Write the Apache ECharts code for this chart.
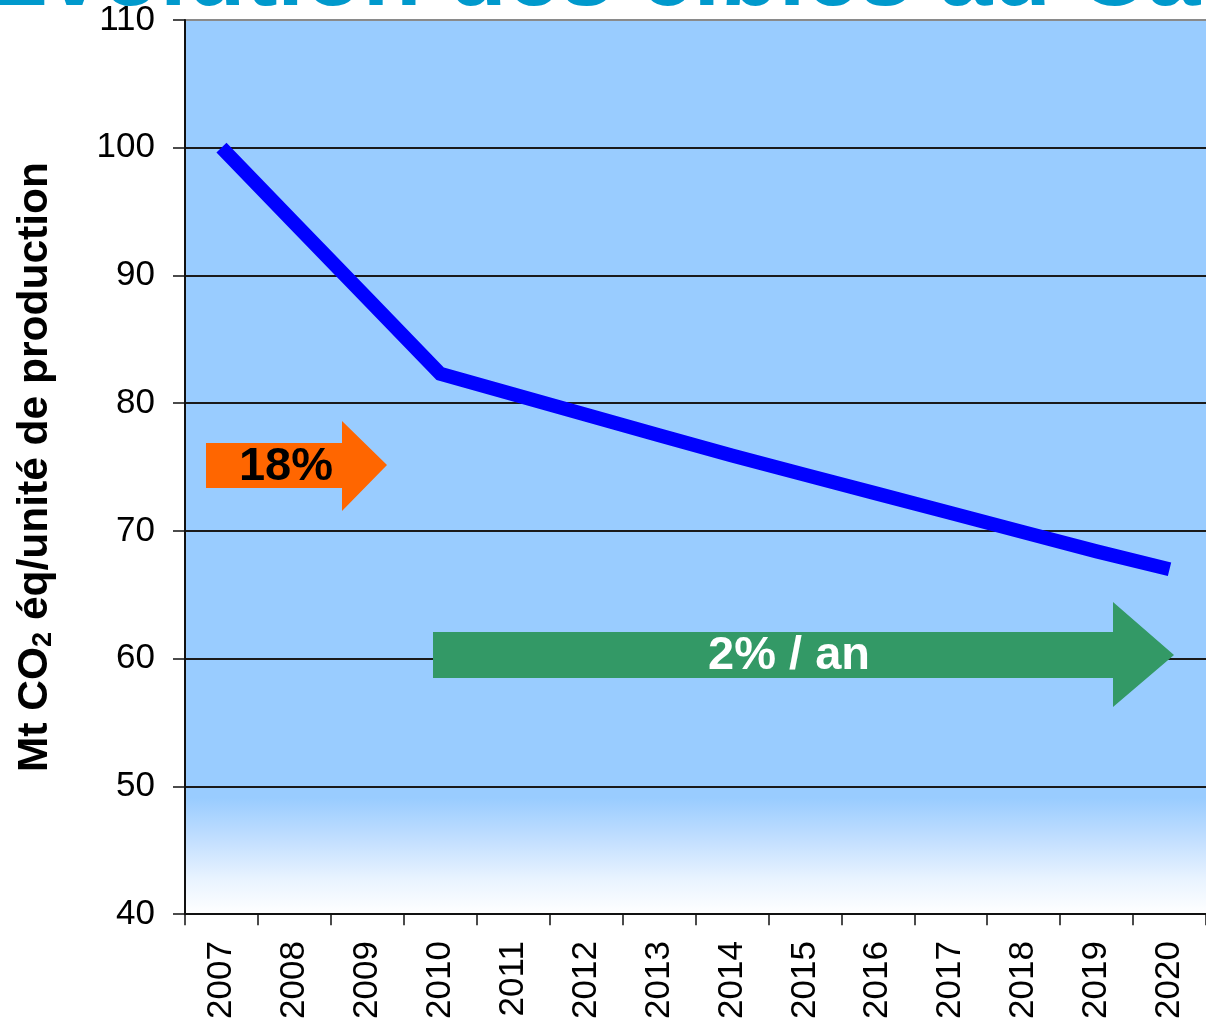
<!DOCTYPE html>
<html>
<head>
<meta charset="utf-8">
<script src="https://cdn.jsdelivr.net/npm/echarts@6/dist/echarts.min.js"></script>
<style>
html,body{margin:0;padding:0;background:#fff;overflow:hidden;}
#chart{width:1206px;height:1022px;}
</style>
</head>
<body>
<div id="chart"></div>
<script>
// Data
const years = ['2007','2008','2009','2010','2011','2012','2013','2014','2015','2016','2017','2018','2019','2020'];
const emissions = [100, 94.1, 88.2, 82.3, 80.7, 79.1, 77.5, 75.9, 74.4, 72.9, 71.4, 69.9, 68.4, 67.0];
const yTicks = {min: 40, max: 110, step: 10};
const titleText = 'Evolution des cibles au Canada';
const axisTitle = '{a|Mt CO}{s|2}{a| éq/unité de production}';
const arrow1Label = '18%';
const arrow2Label = '2% / an';

const FONT = '"Liberation Sans", Arial, Helvetica, sans-serif';
const chart = echarts.init(document.getElementById('chart'), null, {renderer: 'canvas'});

const splitColors = ['#1a1a1a','#1a1a1a','#1a1a1a','#1a1a1a','#1a1a1a','#1a1a1a','#1a1a1a','#8a8a8a'];

chart.setOption({
  animation: false,
  backgroundColor: '#ffffff',
  grid: {
    left: 185, top: 20, right: -9, bottom: 106,
    show: true, borderWidth: 0,
    backgroundColor: {
      type: 'linear', x: 0, y: 0, x2: 0, y2: 1,
      colorStops: [
        {offset: 0, color: '#99CCFF'},
        {offset: 0.87, color: '#99CCFF'},
        {offset: 0.92, color: '#C5E0FF'},
        {offset: 0.96, color: '#E8F3FF'},
        {offset: 1, color: '#FFFFFF'}
      ]
    }
  },
  xAxis: {
    type: 'category',
    data: years,
    boundaryGap: true,
    axisLine: {show: true, lineStyle: {color: '#111', width: 2}},
    axisTick: {show: true, length: 11, lineStyle: {color: '#111', width: 1.5}},
    axisLabel: {rotate: 90, fontSize: 35, color: '#000', fontFamily: FONT, margin: 27, interval: 0},
    splitLine: {show: false}
  },
  yAxis: {
    type: 'value',
    min: yTicks.min, max: yTicks.max, interval: yTicks.step,
    axisLine: {show: true, lineStyle: {color: '#111', width: 2}},
    axisTick: {show: true, length: 12, lineStyle: {color: '#111', width: 1.5}},
    axisLabel: {fontSize: 35, color: '#000', fontFamily: FONT, margin: 30},
    splitLine: {show: true, lineStyle: {color: splitColors, width: 2}},
    name: axisTitle,
    nameLocation: 'middle',
    nameRotate: 90,
    nameGap: 128,
    nameTextStyle: {
      rich: {
        a: {fontSize: 42.5, fontWeight: 'bold', color: '#000', fontFamily: FONT},
        s: {fontSize: 27, fontWeight: 'bold', color: '#000', fontFamily: FONT, verticalAlign: 'bottom'}
      }
    }
  },
  series: [{
    type: 'line',
    data: emissions,
    showSymbol: false,
    symbol: 'none',
    lineStyle: {color: '#0000FF', width: 14, cap: 'butt', join: 'miter'},
    z: 5,
    silent: true
  }],
  graphic: [
    {
      type: 'text', x: -16, y: -21, z: 20,
      style: {text: titleText, font: 'bold 96px ' + FONT, fill: '#0099CC', align: 'left', verticalAlign: 'middle'}
    },
    {
      type: 'polygon', z: 10,
      shape: {points: [[206,443],[342,443],[342,421],[387,465],[342,511],[342,488],[206,488]]},
      style: {fill: '#FF6600'}
    },
    {
      type: 'text', x: 286, y: 467, z: 11,
      style: {text: arrow1Label, font: 'bold 47px ' + FONT, fill: '#000', align: 'center', verticalAlign: 'middle'}
    },
    {
      type: 'polygon', z: 10,
      shape: {points: [[433,632],[1113,632],[1113,602],[1174,655],[1113,707],[1113,678],[433,678]]},
      style: {fill: '#339966'}
    },
    {
      type: 'text', x: 789, y: 656, z: 11,
      style: {text: arrow2Label, font: 'bold 47px ' + FONT, fill: '#fff', align: 'center', verticalAlign: 'middle'}
    }
  ]
});
</script>
</body>
</html>
